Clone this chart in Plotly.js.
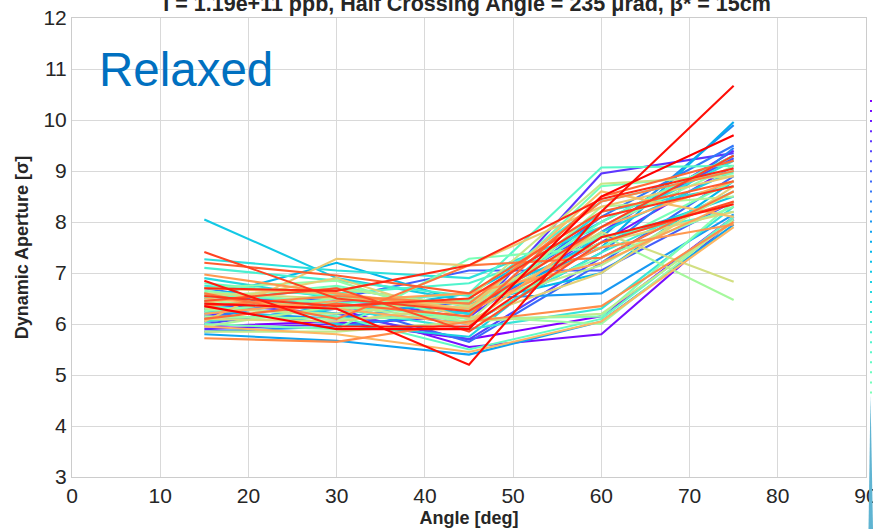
<!DOCTYPE html>
<html>
<head>
<meta charset="utf-8">
<script src="https://cdn.plot.ly/plotly-3.0.1.min.js"></script>
<style>html,body{margin:0;padding:0;background:#fff;}#chart{width:873px;height:529px;}</style>
</head>
<body>
<div id="chart"></div>
<script>
// Crossing angles (deg)
const angles = [15, 30, 45, 60, 75];
// Dynamic aperture [sigma] per seed, one array per angle (seed index 0..59)
const da15 = [5.95,6.05,6.2,5.9,6.15,6.4,6.0,6.3,6.55,6.1, 6.7,5.85,6.25,5.8,6.45,6.5,6.6,8.05,6.3,6.9, 7.27,6.05,6.75,7.1,6.2,6.6,6.35,6.8,6.5,6.0, 6.65,6.25,6.7,6.15,6.45,5.95,6.55,5.85,6.3,6.6, 6.1,6.4,6.05,6.7,5.95,6.5,6.2,6.97,5.72,6.35, 6.6,6.1,7.2,6.45,7.41,6.55,6.7,6.85,6.4,6.35];
const da30 = [6.05,6.3,6.45,6.0,6.55,6.2,6.35,6.5,6.4,6.6, 6.3,5.95,6.1,5.67,6.7,7.2,6.2,6.9,6.0,6.5, 7.05,6.3,6.55,6.85,6.6,6.4,6.15,6.55,6.75,5.9, 6.4,6.5,6.85,6.1,6.3,6.35,6.7,5.85,6.2,6.5, 6.05,6.9,7.28,6.6,5.8,6.3,6.45,6.6,5.65,6.55, 6.1,6.4,6.95,6.7,6.5,6.35,6.65,5.95,6.3,5.9];
const da45 = [5.7,5.55,6.3,6.15,6.1,5.7,6.4,7.05,5.65,6.2, 6.0,6.25,6.5,5.4,6.35,6.4,6.6,6.45,5.75,6.2, 6.9,5.9,6.0,6.55,6.8,6.6,5.5,6.3,6.25,7.28, 6.1,6.3,6.0,6.15,6.45,6.05,6.35,6.05,6.5,6.4, 6.35,6.1,7.15,6.3,5.45,6.0,6.6,6.25,6.05,6.4, 7.15,6.15,6.6,5.85,6.25,6.5,7.15,5.95,5.2,5.9];
const da60 = [6.15,5.8,7.6,7.8,8.95,7.3,7.9,7.05,7.2,8.1, 7.4,7.7,6.6,6.05,7.5,7.0,8.0,7.6,7.8,8.2, 7.9,6.3,7.4,8.4,7.7,9.07,6.1,8.0,8.7,7.5, 6.15,7.3,7.9,6.0,7.75,8.3,7.15,6.2,8.75,7.8, 7.6,7.0,8.3,8.6,6.05,7.9,7.2,7.5,6.35,8.4, 7.3,8.5,8.2,7.6,7.9,8.1,8.45,7.7,8.2,8.5];
const da75 = [8.1,8.05,9.1,9.4,9.35,8.6,9.25,8.4,8.9,9.5, 9.45,9.9,8.15,7.95,9.96,8.8,9.3,8.5,9.0,8.7, 9.2,8.3,8.6,9.0,8.2,9.1,8.1,9.3,8.95,8.8, 8.4,8.3,9.1,8.05,6.47,8.5,8.6,8.0,8.9,6.83, 8.2,8.7,8.9,8.1,7.9,8.8,8.4,7.95,8.0,9.0, 8.6,9.2,8.8,8.4,9.3,8.7,9.05,8.35,10.67,9.7];
const xTicks = [0,10,20,30,40,50,60,70,80,90];
const yTicks = [3,4,5,6,7,8,9,10,11,12];
const titleText = "I = 1.19e+11 ppb, Half Crossing Angle = 235 μrad, β* = 15cm";
const xTitle = "Angle [deg]";
const yTitle = "Dynamic Aperture [σ]";
const label = "Relaxed";

function rainbow(x){
  const r = Math.min(1, Math.abs(2*x - 0.5));
  const g = Math.sin(Math.PI * x);
  const b = Math.cos(Math.PI * x / 2);
  return 'rgb(' + Math.round(255*r) + ',' + Math.round(255*g) + ',' + Math.round(255*b) + ')';
}

const cols = [da15, da30, da45, da60, da75];
const n = Math.min(...cols.map(c => c.length));
const traces = [];
for (let i = 0; i < n; i++) {
  traces.push({
    type: 'scatter', mode: 'lines',
    x: angles, y: cols.map(c => c[i]),
    line: {color: rainbow(i/(n-1)), width: 2.1},
    hoverinfo: 'skip', showlegend: false
  });
}

const W = 873, H = 529, L = 72, R = 7, T = 18, B = 52;
const pw = W - L - R, ph = H - T - B;
const px2x = p => (p - L) / pw;
const py2y = p => 1 - (p - T) / ph;

// cut-off legend markers at the right edge
const shapes = [];
for (let j = 0; j < 30; j++) {
  const py = 101 + j * 10.05;
  shapes.push({type: 'rect', xref: 'paper', yref: 'paper',
    x0: px2x(870), x1: px2x(872), y0: py2y(py + 1), y1: py2y(py - 1),
    fillcolor: rainbow(j/(n-1)), line: {width: 0}});
}
shapes.push({type: 'path', xref: 'paper', yref: 'paper',
  path: 'M ' + px2x(870.5) + ' ' + py2y(395) + ' L ' + px2x(873) + ' ' + py2y(529) + ' L ' + px2x(868.5) + ' ' + py2y(529) + ' Z',
  fillcolor: 'rgb(95,180,210)', line: {width: 0}});

const font = 'Arial, "Liberation Sans", sans-serif';
const layout = {
  width: W, height: H,
  margin: {l: L, r: R, t: T, b: B, pad: 0},
  paper_bgcolor: '#ffffff', plot_bgcolor: '#ffffff',
  font: {family: font, color: '#262626'},
  showlegend: false,
  title: {text: titleText, font: {family: font, size: 21.5, weight: 'bold', color: '#262626'},
          x: 0.535, xref: 'container', xanchor: 'center', y: 0.994, yref: 'container', yanchor: 'middle'},
  xaxis: {range: [0, 90], tickvals: xTicks, ticktext: xTicks.map(String),
          showgrid: true, gridcolor: '#d9d9d9', gridwidth: 1,
          showline: true, linecolor: '#cccccc', linewidth: 1, mirror: true,
          zeroline: false, ticks: '', ticklabeloverflow: 'allow',
          tickfont: {family: font, size: 21, color: '#262626'},
          title: {text: xTitle, font: {family: font, size: 18, weight: 'bold', color: '#262626'}, standoff: 5}},
  yaxis: {range: [3, 12], tickvals: yTicks, ticktext: yTicks.map(String),
          showgrid: true, gridcolor: '#d9d9d9', gridwidth: 1,
          showline: true, linecolor: '#cccccc', linewidth: 1, mirror: true,
          zeroline: false, ticks: '', tickfont: {family: font, size: 21, color: '#262626'},
          title: {text: yTitle, font: {family: font, size: 18, weight: 'bold', color: '#262626'}, standoff: 10}},
  annotations: [{text: label, xref: 'paper', yref: 'paper', x: px2x(96.5), y: py2y(69),
                 xanchor: 'left', yanchor: 'middle', showarrow: false,
                 font: {family: font, size: 47.5, color: 'rgb(0,112,192)'}}],
  shapes: shapes
};

Plotly.newPlot('chart', traces, layout, {staticPlot: true, displayModeBar: false});
</script>
</body>
</html>
